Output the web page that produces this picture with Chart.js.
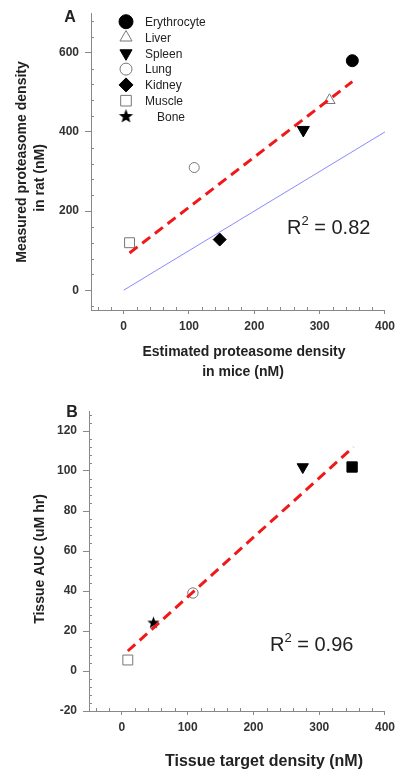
<!DOCTYPE html>
<html>
<head>
<meta charset="utf-8">
<script src="https://cdn.jsdelivr.net/npm/chart.js@4.4.1/dist/chart.umd.min.js"></script>
<style>
  body { margin: 0; background: #fff; }
  canvas { display: block; }
</style>
</head>
<body>
<canvas id="chartA" width="400" height="385"></canvas>
<canvas id="chartB" width="400" height="386"></canvas>
<script>
// panel A - estimated (mice) vs measured (rat) proteasome density
const tissuesA = ["Erythrocyte", "Liver", "Spleen", "Lung", "Kidney", "Muscle"];
const miceDensityA = [350, 315, 275, 108, 147, 9];
const ratDensityA = [580, 480, 405, 310, 128, 120];
const fitLineAx = [9, 350];
const fitLineAy = [94, 527];
const identityX = [0, 400];
const identityY = [0, 400];
const xTicks = [0, 100, 200, 300, 400];
const yTicksA = [0, 200, 400, 600];
const legendLabels = ["Erythrocyte", "Liver", "Spleen", "Lung", "Kidney", "Muscle", "Bone"];

// panel B - tissue target density vs tissue AUC
const tissuesB = ["Erythrocyte", "Spleen", "Lung", "Bone", "Muscle"];
const targetDensityB = [350, 275, 108, 48, 9];
const tissueAucB = [102, 102, 39, 24, 5.5];
const fitLineBx = [9, 352];
const fitLineBy = [10, 112];
const yTicksB = [-20, 0, 20, 40, 60, 80, 100, 120];

const AXIS = "#888";
const TXT = "#222";
const FONT = "'Liberation Sans', Arial, sans-serif";

// filled star (Chart.js 'star' is only strokes)
function makeStar(r) {
    let c = document.createElement("canvas");
    let s = Math.ceil(r * 2 + 2);
    c.width = s; c.height = s;
    let g = c.getContext("2d");
    g.fillStyle = "#000";
    g.beginPath();
    for (let i = 0; i < 10; i++) {
        let rad = i % 2 ? r * 0.42 : r;
        let a = -Math.PI / 2 + i * Math.PI / 5;
        g.lineTo(s / 2 + rad * Math.cos(a), s / 2 + rad * Math.sin(a));
    }
    g.closePath();
    g.fill();
    return c;
}
const starImg = makeStar(6.5);
const starLegend = makeStar(7.5);

const markersA = [
    { style: "circle", fill: true, r: 6 },
    { style: "triangle", fill: false, r: 6.5 },
    { style: "triangle", fill: true, r: 7, rot: 180 },
    { style: "circle", fill: false, r: 5 },
    { style: "rectRot", fill: true, r: 6.5 },
    { style: "rect", fill: false, r: 7 }
];
const markersB = [
    { style: "rect", fill: true, r: 7.3 },
    { style: "triangle", fill: true, r: 6.5, rot: 180 },
    { style: "circle", fill: false, r: 5.2 },
    { style: starImg, fill: true, r: 6.5 },
    { style: "rect", fill: false, r: 7 }
];
const legendMarkers = [
    { style: "circle", fill: true, r: 7 },
    { style: "triangle", fill: false, r: 7 },
    { style: "triangle", fill: true, r: 7, rot: 180 },
    { style: "circle", fill: false, r: 6 },
    { style: "rectRot", fill: true, r: 7 },
    { style: "rect", fill: false, r: 7.5 },
    { style: starLegend, fill: true, r: 7.5 }
];

function pointSet(label, x, y, m) {
    return {
        label: label,
        data: [{ x: x, y: y }],
        showLine: false,
        pointStyle: m.style,
        rotation: m.rot || 0,
        pointRadius: m.r,
        pointHoverRadius: m.r,
        backgroundColor: m.fill ? "#000" : "#fff",
        borderColor: m.fill ? "#000" : "#777",
        borderWidth: 1
    };
}

function lineSet(label, xs, ys, color, width, dash) {
    return {
        label: label,
        data: xs.map((x, i) => ({ x: x, y: ys[i] })),
        showLine: true,
        borderColor: color,
        borderWidth: width,
        borderDash: dash,
        pointRadius: 0,
        fill: false
    };
}

function drawMarker(ctx, m, x, y) {
    ctx.fillStyle = m.fill ? "#000" : "#fff";
    ctx.strokeStyle = m.fill ? "#000" : "#777";
    ctx.lineWidth = 1;
    Chart.helpers.drawPoint(ctx, { pointStyle: m.style, rotation: m.rot || 0, radius: m.r, borderWidth: 1 }, x, y);
}

// minor ticks, titles, labels, legend
function makeDecor(cfg) {
    return {
        id: "decor",
        afterDraw(chart) {
            let ctx = chart.ctx;
            let xs = chart.scales.x, ys = chart.scales.y;
            ctx.save();
            ctx.strokeStyle = AXIS;
            ctx.lineWidth = 1;
            ctx.beginPath();
            for (let v = cfg.xMinor[0]; v <= cfg.xMinor[1]; v += cfg.xMinor[2]) {
                if (v % cfg.xMinor[3] === 0) continue;
                let px = Math.round(xs.getPixelForValue(v)) + 0.5;
                ctx.moveTo(px, ys.bottom);
                ctx.lineTo(px, ys.bottom - 3);
            }
            for (let v = cfg.yMinor[0]; v <= cfg.yMinor[1]; v += cfg.yMinor[2]) {
                if (v % cfg.yMinor[3] === 0) continue;
                let py = Math.round(ys.getPixelForValue(v)) + 0.5;
                ctx.moveTo(xs.left, py);
                ctx.lineTo(xs.left + 3, py);
            }
            ctx.stroke();

            ctx.fillStyle = TXT;
            ctx.textAlign = "center";
            ctx.textBaseline = "middle";
            cfg.texts.forEach(t => {
                ctx.font = t.font;
                if (t.rotate) {
                    ctx.save();
                    ctx.translate(t.x, t.y);
                    ctx.rotate(-Math.PI / 2);
                    ctx.fillText(t.text, 0, 0);
                    ctx.restore();
                } else {
                    ctx.fillText(t.text, t.x, t.y);
                }
            });

            // R^2 label
            let r = cfg.r2;
            ctx.textAlign = "left";
            ctx.textBaseline = "alphabetic";
            ctx.font = "20px " + FONT;
            ctx.fillText("R", r.x, r.y);
            let w = ctx.measureText("R").width;
            ctx.font = "13px " + FONT;
            ctx.fillText("2", r.x + w, r.y - 9);
            let w2 = ctx.measureText("2").width;
            ctx.font = "20px " + FONT;
            ctx.fillText(" = " + r.value, r.x + w + w2, r.y);

            if (cfg.legend) {
                ctx.font = "12px " + FONT;
                ctx.textBaseline = "middle";
                legendLabels.forEach((lab, i) => {
                    let y = 21.7 + i * 15.8;
                    drawMarker(ctx, legendMarkers[i], 126, y);
                    ctx.fillStyle = TXT;
                    ctx.fillText(lab, lab === "Bone" ? 157 : 145, y + 1);
                });
            }
            ctx.restore();
        }
    };
}

function axisScale(min, max, ticks, size, isX) {
    return {
        type: "linear",
        min: min,
        max: max,
        afterBuildTicks: scale => { scale.ticks = ticks.map(v => ({ value: v })); },
        afterFit: scale => { if (isX) scale.height = size; else scale.width = size; },
        grid: { drawOnChartArea: false, drawTicks: true, tickLength: isX ? 4 : 6, color: AXIS },
        border: { display: true, color: AXIS, width: 1 },
        ticks: {
            padding: isX ? 5 : 6,
            color: "#333",
            font: { family: FONT, size: 12, weight: "bold" }
        }
    };
}

Chart.defaults.animation = false;

new Chart(document.getElementById("chartA"), {
    type: "scatter",
    data: {
        datasets: [
            lineSet("Fit", fitLineAx, fitLineAy, "#f01818", 3, [10, 6]),
            lineSet("Identity", identityX, identityY, "#8a8aff", 1, [])
        ].concat(tissuesA.map((t, i) => pointSet(t, miceDensityA[i], ratDensityA[i], markersA[i])))
    },
    options: {
        responsive: false,
        devicePixelRatio: 1,
        layout: { padding: { top: 10, right: 10, left: 0, bottom: 0 } },
        plugins: { legend: { display: false }, tooltip: { enabled: false } },
        scales: {
            x: axisScale(-50, 400, xTicks, 75, true),
            y: axisScale(-50, 700, yTicksA, 91, false)
        }
    },
    plugins: [makeDecor({
        xMinor: [-40, 380, 20, 100],
        yMinor: [-40, 680, 40, 200],
        texts: [
            { text: "A", x: 70, y: 18, font: "bold 16px " + FONT },
            { text: "Measured proteasome density", x: 22, y: 162, rotate: true, font: "bold 14px " + FONT },
            { text: "in rat (nM)", x: 40, y: 178, rotate: true, font: "bold 14px " + FONT },
            { text: "Estimated proteasome density", x: 244, y: 352, font: "bold 14px " + FONT },
            { text: "in mice (nM)", x: 243, y: 372, font: "bold 14px " + FONT }
        ],
        r2: { x: 287, y: 234, value: "0.82" },
        legend: true
    })]
});

new Chart(document.getElementById("chartB"), {
    type: "scatter",
    data: {
        datasets: [
            lineSet("Fit", fitLineBx, fitLineBy, "#f01818", 3, [10, 6])
        ].concat(tissuesB.map((t, i) => pointSet(t, targetDensityB[i], tissueAucB[i], markersB[i])))
    },
    options: {
        responsive: false,
        devicePixelRatio: 1,
        layout: { padding: { top: 26, right: 12, left: 0, bottom: 0 } },
        plugins: { legend: { display: false }, tooltip: { enabled: false } },
        scales: {
            x: axisScale(-50, 400, xTicks, 60, true),
            y: axisScale(-20, 130, yTicksB, 89, false)
        }
    },
    plugins: [makeDecor({
        xMinor: [-40, 380, 20, 100],
        yMinor: [-16, 128, 4, 20],
        texts: [
            { text: "B", x: 72, y: 28, font: "bold 16px " + FONT },
            { text: "Tissue AUC (uM hr)", x: 40, y: 174, rotate: true, font: "bold 14px " + FONT },
            { text: "Tissue target density (nM)", x: 264, y: 377, font: "bold 16px " + FONT }
        ],
        r2: { x: 270, y: 266, value: "0.96" },
        legend: false
    })]
});
</script>
</body>
</html>
